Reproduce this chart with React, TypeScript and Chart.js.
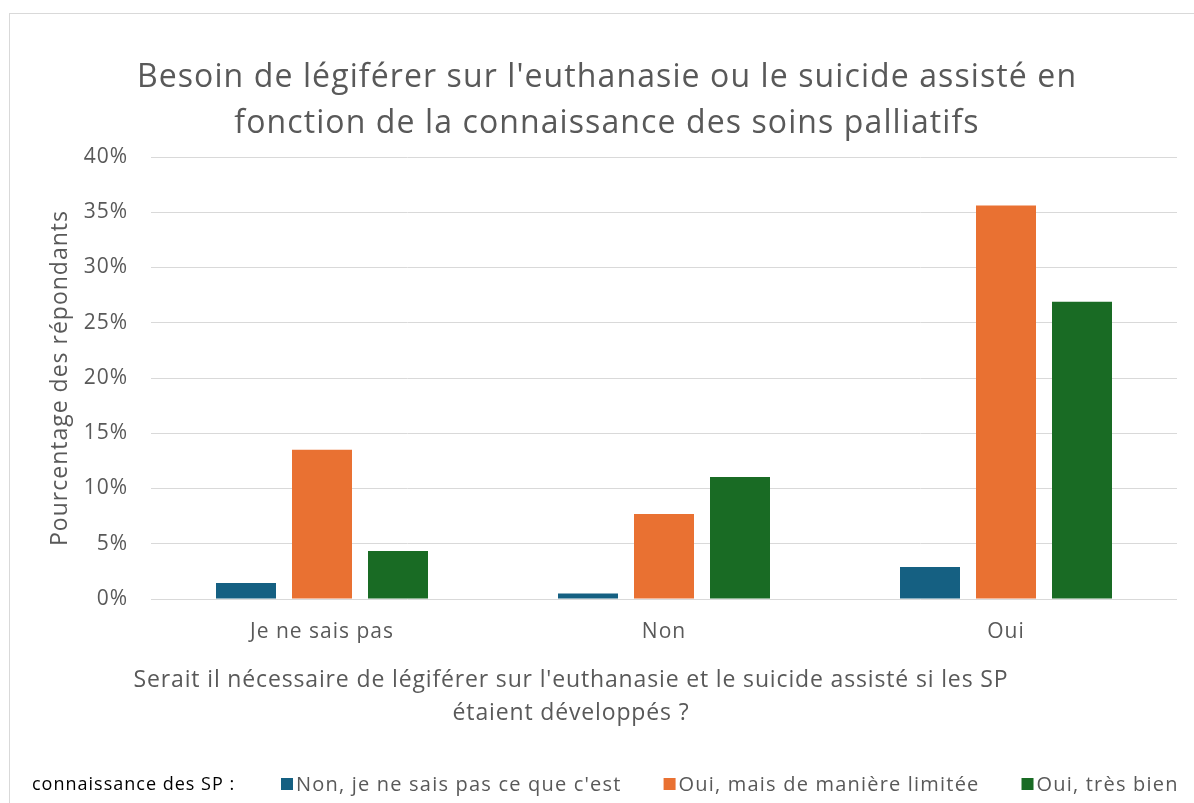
import React, { useEffect, useRef } from "react";
import { Chart, registerables } from "chart.js";

Chart.register(...registerables);

const titleLines = [
  "Besoin de légiférer sur l'euthanasie ou le suicide assisté en",
  "fonction de la connaissance des soins palliatifs",
];
const xTitleLines = [
  "Serait il nécessaire de légiférer sur l'euthanasie et le suicide assisté si les SP",
  "étaient développés ?",
];
const yTitle = "Pourcentage des répondants";
const legendPrefix = "connaissance des SP :";

const categories = ["Je ne sais pas", "Non", "Oui"];
const seriesLabels = [
  "Non, je ne sais pas ce que c'est",
  "Oui, mais de manière limitée",
  "Oui, très bien",
];
const seriesColors = ["#156082", "#E97132", "#196B24"];
const nonValues = [1.45, 0.5, 2.9];
const limiteeValues = [13.5, 7.7, 35.6];
const tresBienValues = [4.35, 11.05, 26.9];
const yTicks = [0, 5, 10, 15, 20, 25, 30, 35, 40];

const FONT = "'Open Sans', 'DejaVu Sans', sans-serif";

const decorPlugin = {
  id: "decor",
  beforeDraw(chart: any) {
    chart.ctx.letterSpacing = "1px";
  },
  afterDraw(chart: any) {
    const ctx = chart.ctx;
    ctx.save();
    ctx.textBaseline = "middle";
    ctx.textAlign = "center";
    // Title
    ctx.fillStyle = "#595959";
    ctx.letterSpacing = "1.1px";
    ctx.font = `32px ${FONT}`;
    ctx.fillText(titleLines[0], 607, 78);
    ctx.fillText(titleLines[1], 607, 124);
    // X title
    ctx.letterSpacing = "0.85px";
    ctx.font = `23px ${FONT}`;
    ctx.fillText(xTitleLines[0], 571, 680);
    ctx.fillText(xTitleLines[1], 571, 713);
    // Y title
    ctx.save();
    ctx.translate(60, 378);
    ctx.rotate(-Math.PI / 2);
    ctx.letterSpacing = "1px";
    ctx.font = `23px ${FONT}`;
    ctx.fillText(yTitle, 0, 0);
    ctx.restore();
    // Legend
    ctx.textAlign = "left";
    ctx.letterSpacing = "1px";
    ctx.font = `18px ${FONT}`;
    ctx.fillStyle = "#000000";
    ctx.fillText(legendPrefix, 32, 785);
    let x = 281;
    ctx.letterSpacing = "1.2px";
    ctx.font = `20px ${FONT}`;
    chart.data.datasets.forEach((ds: any) => {
      ctx.fillStyle = ds.backgroundColor;
      ctx.fillRect(x, 778, 12, 12);
      ctx.fillStyle = "#595959";
      ctx.fillText(ds.label, x + 15, 785);
      x += 15 + ctx.measureText(ds.label).width + 42;
    });
    ctx.restore();
  },
};

export default function App() {
  const ref = useRef<HTMLCanvasElement | null>(null);
  useEffect(() => {
    if (!ref.current) return;
    const chart = new Chart(ref.current, {
      type: "bar",
      data: {
        labels: categories,
        datasets: [
          { label: seriesLabels[0], data: nonValues, backgroundColor: seriesColors[0] },
          { label: seriesLabels[1], data: limiteeValues, backgroundColor: seriesColors[1] },
          { label: seriesLabels[2], data: tresBienValues, backgroundColor: seriesColors[2] },
        ],
      },
      options: {
        responsive: false,
        animation: false,
        devicePixelRatio: 1,
        layout: { padding: { left: 0, right: 17, top: 157, bottom: 144 } },
        datasets: {
          bar: { barPercentage: 60 / 76, categoryPercentage: 228 / 342 },
        },
        plugins: {
          legend: { display: false },
          title: { display: false },
          tooltip: { enabled: false },
        },
        scales: {
          x: {
            grid: { display: false },
            border: { display: false },
            ticks: { color: "#595959", font: { family: FONT, size: 21 }, padding: 12 },
            afterFit: (s: any) => { s.height = 60; },
          },
          y: {
            min: 0,
            max: 40,
            afterBuildTicks: (s: any) => { s.ticks = yTicks.map((v) => ({ value: v })); },
            grid: { color: "#d9d9d9", lineWidth: 1, drawTicks: false },
            border: { display: false },
            ticks: {
              color: "#595959",
              font: { family: FONT, size: 21 },
              padding: 23,
              callback: (v: any) => `${v}%`,
            },
            afterFit: (s: any) => { s.width = 151; },
          },
        },
      },
      plugins: [decorPlugin],
    });
    return () => chart.destroy();
  }, []);
  return (
    <div style={{ position: "absolute", left: 0, top: 0, width: 1194, height: 803, overflow: "hidden", background: "#ffffff" }}>
      <div style={{ position: "absolute", left: 9, top: 13, width: 1300, height: 900, border: "1px solid #d9d9d9" }} />
      <canvas ref={ref} width={1194} height={803} style={{ position: "absolute", left: 0, top: 0, width: 1194, height: 803 }} />
    </div>
  );
}
